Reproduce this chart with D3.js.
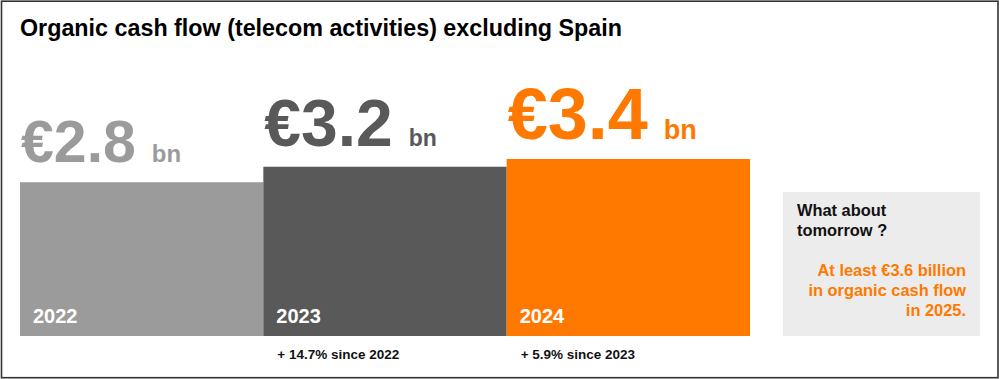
<!DOCTYPE html>
<html>
<head>
<meta charset="utf-8">
<script src="https://cdn.jsdelivr.net/npm/d3@7"></script>
<style>
  html, body { margin: 0; padding: 0; background: #fff; }
  svg { display: block; font-family: "Liberation Sans", Arial, Helvetica, sans-serif; }
</style>
</head>
<body>
<svg id="chart" width="1000" height="379"></svg>
<script>
// ---- data ----
const title = "Organic cash flow (telecom activities) excluding Spain";
const years = ["2022", "2023", "2024"];
const values = [2.8, 3.2, 3.4];
const valueLabels = ["€2.8", "€3.2", "€3.4"];
const unitLabel = "bn";
const growthLabels = [null, "+ 14.7% since 2022", "+ 5.9% since 2023"];
const outlookTitle = ["What about", "tomorrow ?"];
const outlookText = ["At least €3.6 billion", "in organic cash flow", "in 2025."];

// ---- styles ----
const colors = ["#9b9b9b", "#595959", "#ff7900"];
const valueFont = [59, 66, 72];
const unitFont = [24, 23, 27];

const svg = d3.select("#chart");

// frame
svg.append("rect")
  .attr("x", 1.5).attr("y", 1.2).attr("width", 996.5).attr("height", 376.5)
  .attr("fill", "none").attr("stroke", "#333").attr("stroke-width", 1.6);

// title
svg.append("text")
  .attr("x", 20).attr("y", 36)
  .attr("font-size", 23.3).attr("font-weight", "bold").attr("fill", "#000")
  .text(title);

// scales
const x = d3.scaleBand().domain(years).range([20, 750]).padding(0);
const y = d3.scaleLinear().domain([-1.175, 3.4]).range([336, 159]);

const g = svg.append("g");

// bars
g.selectAll("rect.bar").data(years).join("rect")
  .attr("class", "bar")
  .attr("x", d => x(d))
  .attr("width", x.bandwidth())
  .attr("y", (d, i) => y(values[i]))
  .attr("height", (d, i) => y(-1.175) - y(values[i]))
  .attr("fill", (d, i) => colors[i]);

// year labels inside bars
g.selectAll("text.year").data(years).join("text")
  .attr("class", "year")
  .attr("x", d => x(d) + 13)
  .attr("y", 323)
  .attr("font-size", 20).attr("font-weight", "bold").attr("fill", "#fff")
  .text(d => d);

// value labels above bars
years.forEach((yr, i) => {
  const t = g.append("text")
    .attr("x", x(yr) + 1)
    .attr("y", y(values[i]) - 20.5)
    .attr("font-weight", "bold")
    .attr("fill", colors[i]);
  t.append("tspan").attr("font-size", valueFont[i]).text(valueLabels[i]);
  t.append("tspan").attr("font-size", unitFont[i]).attr("dx", 16).text(unitLabel);
});

// growth labels under bars
g.selectAll("text.growth").data(years).join("text")
  .attr("class", "growth")
  .attr("x", d => x(d) + 14)
  .attr("y", 359)
  .attr("font-size", 13.5).attr("font-weight", "bold").attr("fill", "#111")
  .text((d, i) => growthLabels[i] || "");

// outlook box
svg.append("rect")
  .attr("x", 783).attr("y", 192).attr("width", 197).attr("height", 144)
  .attr("fill", "#ececec");

svg.append("g").selectAll("text").data(outlookTitle).join("text")
  .attr("x", 797).attr("y", (d, i) => 216 + i * 20)
  .attr("font-size", 16.4).attr("font-weight", "bold").attr("fill", "#111")
  .text(d => d);

svg.append("g").selectAll("text").data(outlookText).join("text")
  .attr("x", 966).attr("y", (d, i) => 276 + i * 20)
  .attr("text-anchor", "end")
  .attr("font-size", 16.4).attr("font-weight", "bold").attr("fill", "#ff7900")
  .text(d => d);
</script>
</body>
</html>
